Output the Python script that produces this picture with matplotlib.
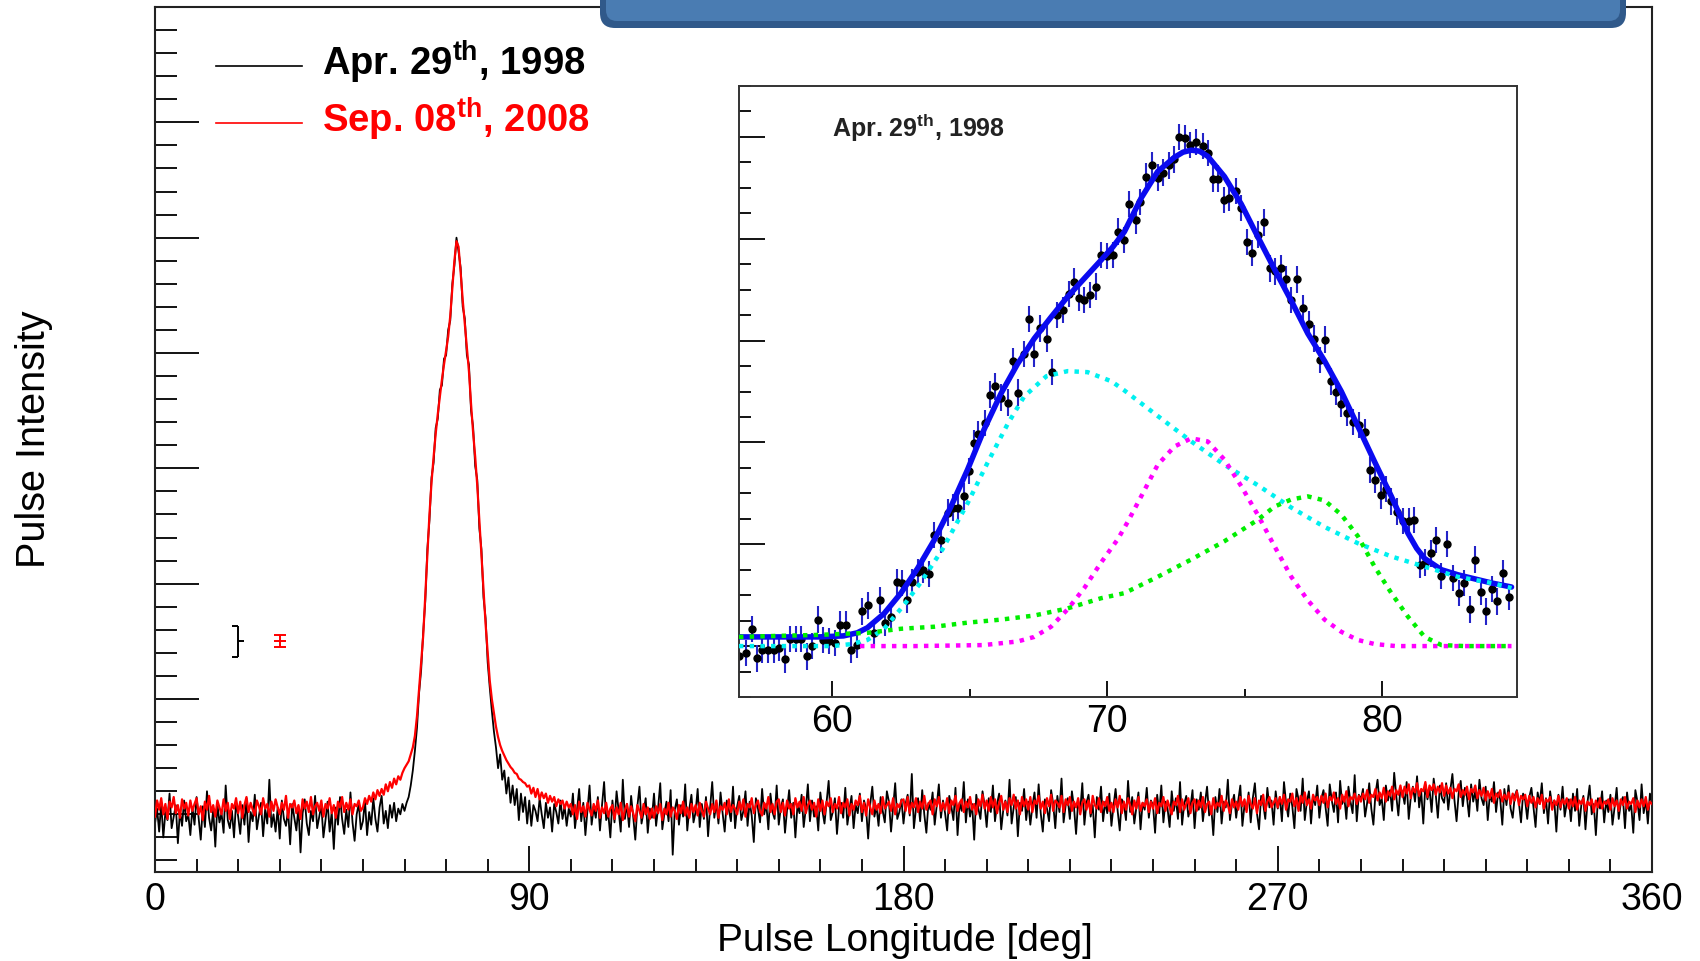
import numpy as np
import matplotlib
matplotlib.use("Agg")
import matplotlib.pyplot as plt
from matplotlib.lines import Line2D
from matplotlib.patches import FancyBboxPatch
from matplotlib.transforms import IdentityTransform
from matplotlib.ticker import MultipleLocator

plt.rcParams["font.family"] = ["Liberation Sans", "DejaVu Sans"]
plt.rcParams["mathtext.fontset"] = "custom"
plt.rcParams["mathtext.rm"] = "Liberation Sans"
plt.rcParams["mathtext.bf"] = "Liberation Sans:bold"

W, H = 1700, 961

# ---- main pulse profiles: 0.5 deg bins, intensity in hundredths ----
phase_step = 0.5
red_profile = np.array([
    -2, 12, 4, 14, 0, 9, -4, 11, 6, 15, 1, 8, -3, 13, 5, 10, -1, 12, 3, 9,
    14, 0, 7, -5, 11, 4, 16, 2, 8, -2, 12, 6, 0, 13, 3, 10, -4, 9, 5, 14,
    1, 11, -3, 8, 15, 2, 10, 4, -1, 12, 7, 0, 14, 5, 9, -2, 11, 3, 13, 6,
    0, 10, 4, 16, -3, 9, 6, 12, 1, 8, -4, 13, 5, 11, 2, 15, 0, 7, 10, 3,
    12, -2, 9, 5, 14, 1, 8, -3, 11, 6, 15, 2, 10, 4, 13, 0, 9, 7, 12, 3,
    6, 14, 9, 16, 11, 19, 13, 21, 16, 22, 17, 26, 20, 28, 23, 31, 26, 33, 30, 36,
    40, 43, 46, 52, 58, 68, 85, 108, 130, 155, 190, 225, 260, 288, 310, 330, 347, 362, 377, 390,
    402, 414, 432, 456, 480, 497, 492, 470, 446, 425, 405, 384, 356, 331, 310, 285, 255, 225, 195, 165,
    140, 116, 100, 88, 76, 67, 60, 55, 51, 47, 44, 41, 39, 36, 35, 31, 30, 28, 27, 24,
    25, 18, 23, 15, 22, 13, 19, 14, 18, 10, 16, 11, 15, 7, 13, 9, 12, 5, 11, 6,
    9, 0, 8, -4, 11, 2, 7, -2, 10, 4, -1, 9, 3, 12, -3, 6, 1, 10, -2, 5,
    8, -4, 6, 0, 10, -5, 4, 9, -2, 7, 1, -6, 8, 3, -3, 9, 0, 6, -4, 5,
    -3, 7, 1, 9, -5, 5, 0, 10, -2, 6, 3, -4, 8, 1, 11, -1, 6, -3, 9, 2,
    8, -1, 10, 3, -2, 11, 5, 0, 9, 2, 12, -3, 7, 4, 10, 0, 13, 2, 8, 5,
    0, 11, 4, 13, -2, 9, 6, 14, 1, 8, 12, 3, -1, 10, 5, 15, 2, 9, 0, 11,
    13, 2, 10, -1, 12, 5, 9, 0, 14, 6, 11, 3, 15, 1, 8, 12, 4, 10, -2, 13,
    3, 12, 0, 11, 7, 14, 2, 9, 5, 15, 1, 10, 6, 13, -1, 9, 4, 12, 8, 16,
    2, 10, -1, 13, 6, 0, 12, 4, 9, 1, 15, 5, 8, 11, 3, 14, 0, 9, 6, 12,
    13, 3, 15, 1, 10, 6, 14, 2, 11, 5, 16, 4, 9, 12, 0, 13, 7, 15, 3, 10,
    4, 14, 1, 12, 8, 16, 3, 10, 13, 2, 11, 6, 15, 4, 9, 0, 13, 7, 17, 5,
    12, 3, 15, 6, 13, 1, 10, 16, 4, 11, 2, 14, 8, 17, 5, 12, 0, 15, 7, 13,
    4, 15, 2, 12, 9, 16, 5, 11, 1, 14, 7, 17, 3, 12, 10, 6, 16, 2, 13, 8,
    15, 3, 11, 6, 14, 0, 10, 13, 4, 12, 1, 16, 8, 5, 14, 2, 11, 7, 15, 3,
    10, 2, 13, 6, 16, 1, 11, 4, 14, 8, 0, 12, 5, 15, 3, 10, 7, 13, 2, 11,
    5, 14, 1, 10, 7, 15, 3, 12, 6, 0, 11, 8, 16, 2, 13, 4, 9, 14, 1, 10,
    13, 3, 12, 6, 15, 2, 9, 11, 0, 14, 5, 10, 7, 16, 3, 12, 8, 1, 13, 6,
    11, 4, 15, 7, 13, 2, 16, 9, 5, 14, 1, 12, 8, 17, 3, 11, 15, 6, 10, 14,
    6, 15, 9, 17, 4, 13, 11, 18, 7, 14, 3, 16, 10, 19, 8, 13, 5, 17, 12, 15,
    8, 16, 10, 18, 6, 15, 12, 19, 9, 14, 5, 17, 11, 20, 7, 15, 13, 18, 9, 16,
    11, 18, 13, 21, 10, 17, 15, 22, 12, 19, 14, 23, 11, 20, 16, 24, 13, 21, 17, 25,
    15, 24, 18, 26, 14, 23, 19, 27, 16, 22, 20, 28, 15, 25, 21, 26, 17, 24, 19, 27,
    16, 25, 18, 23, 14, 22, 20, 26, 15, 21, 17, 24, 13, 22, 19, 25, 14, 21, 16, 23,
    12, 20, 14, 22, 10, 18, 15, 21, 11, 17, 13, 19, 9, 18, 12, 20, 8, 16, 13, 17,
    7, 16, 10, 15, 6, 14, 9, 17, 5, 13, 11, 15, 4, 12, 8, 16, 6, 13, 9, 14,
    5, 13, 7, 15, 4, 12, 9, 14, 3, 11, 8, 13, 2, 12, 6, 14, 5, 11, 9, 13,
    4, 14, 7, 12, 3, 13, 8, 15, 5, 11, 9, 14, 2, 12, 6, 13, 7, 15, 4, 11,
    9,
]) / 100

black_profile = np.array([
    -8, 5, -15, 10, -20, 2, -5, 18, -12, -2, 8, -25, 3, -10, 12, -6, 0, -18, 6, -9,
    15, -4, -22, 7, -11, 20, -3, -14, 4, -28, 9, -7, 1, -16, 25, -5, -12, 3, -20, 11,
    -2, -17, 8, -9, 14, -24, 2, -6, 17, -13, -1, 10, -19, 5, -8, 30, -11, 0, -15, 6,
    -21, 12, -4, -10, 4, -26, 9, -3, -14, 7, -33, 1, 13, -8, -18, 3, -6, 16, -12, -2,
    8, -20, -5, 11, -15, 2, -30, 6, -9, 15, -4, -17, 4, -11, 19, -7, -23, 0, 9, -13,
    -6, 12, -18, 2, -9, 14, -4, -15, 6, 16, -8, 3, -12, 8, -3, 10, -6, 5, 0, 9,
    3, 10, 15, 25, 38, 55, 75, 105, 125, 158, 185, 230, 255, 292, 305, 335, 343, 368, 372, 395,
    398, 420, 428, 460, 476, 500, 488, 474, 440, 430, 398, 390, 350, 336, 302, 290, 248, 230, 188, 170,
    132, 110, 90, 72, 58, 40, 52, 30, 38, 18, 32, 10, 25, 8, 22, -5, 18, 2, 15, -8,
    12, -10, 8, 3, -6, 14, 0, -12, 10, -3, 6, -15, 9, 2, -8, 12, -4, 7, -10, 5,
    -2, 18, -12, 4, 22, -6, 10, -18, 3, 25, -9, 6, -3, 15, -14, 8, 28, -5, 1, -20,
    12, -7, 20, 3, -15, 30, -4, 9, -11, 16, -2, -22, 7, 24, -8, 2, 14, -16, 5, -3,
    18, -10, 6, 27, -13, 1, 11, -6, 21, -35, 4, 13, -9, 8, -2, 26, -14, 5, 17, -7,
    2, 22, -11, 9, -4, 15, -19, 6, 28, -3, 10, -8, 19, 1, -15, 12, 4, -6, 24, -12,
    7, 16, -5, 3, 20, -10, 11, -1, -24, 14, 5, -7, 22, 0, 9, -13, 18, 2, -4, 25,
    -9, 6, 13, -16, 4, 21, -3, 10, -20, 8, 1, 17, -11, 5, 26, -6, 12, -2, 7, -14,
    19, 3, -8, 11, 29, -5, 2, 14, -17, 6, 10, -3, 23, -9, 4, 16, -12, 8, 1, 18,
    -6, 12, 5, -21, 9, 24, -2, 7, -10, 15, 3, -7, 20, 11, -15, 6, 27, -4, 2, 13,
    -8, 9, 17, -1, 35, -12, 5, 14, -6, 21, 0, -16, 10, 4, 19, -9, 8, 26, -3, 12,
    1, -14, 16, 7, -5, 23, -18, 10, 3, 28, -7, 13, -2, 9, -22, 17, 5, -4, 20, 8,
    -11, 14, 2, 25, -6, 9, 18, -13, 4, 12, -1, 30, -8, 6, 15, -19, 10, 3, 22, -5,
    11, -9, 7, 19, -3, 26, 1, -15, 13, 5, -6, 21, 9, -12, 16, 2, 31, -7, 8, 14,
    -4, 20, 6, -17, 12, 3, 27, -9, 10, 17, -2, 8, -20, 15, 4, 24, -6, 11, 1, 18,
    -10, 7, 22, 3, -14, 13, 9, -5, 29, 2, 15, -8, 6, 19, -13, 10, 4, 23, -3, 12,
    8, -16, 17, 1, 25, -7, 11, 5, -11, 20, 3, 14, -4, 28, -9, 9, 16, -2, 6, 21,
    -12, 13, 4, 19, -6, 10, 24, -1, 7, -18, 15, 2, 22, -8, 11, 6, 30, -5, 9, 17,
    -3, 12, 25, -10, 8, 4, 19, -7, 14, 27, 1, -13, 16, 9, -4, 23, 6, 12, -9, 20,
    5, 15, -6, 28, 10, -2, 18, 7, -12, 22, 13, 3, 31, -5, 11, 20, -8, 16, 8, 25,
    -3, 14, 21, 6, -10, 26, 12, 2, 19, -7, 29, 9, 15, -4, 24, 11, 1, 34, -6, 17,
    13, 22, -2, 10, 27, 5, -9, 18, 30, 8, 14, -5, 25, 12, 21, 3, 36, 16, -1, 23,
    19, 9, 28, -4, 15, 24, 11, 33, 6, 20, -8, 26, 13, 22, 2, 31, 17, -3, 25, 14,
    10, 27, 4, 21, 35, 12, -6, 18, 29, 7, 23, 15, -2, 26, 11, 20, 3, 30, 14, 8,
    24, -5, 17, 11, 28, 2, 19, 13, -9, 22, 8, 25, 5, -3, 16, 21, 10, -7, 18, 12,
    -4, 15, 23, 6, -11, 19, 9, 27, 1, 14, -8, 20, 7, 12, -15, 17, 4, 24, -2, 10,
    13, -6, 18, 3, 22, -10, 8, 16, -13, 11, 25, 0, 9, -18, 14, 5, 20, -7, 12, 2,
    17, -9, 6, 23, -4, 10, 15, -12, 19, 3, 8, -16, 21, 11, -5, 26, 1, 13, -8, 18,
    10,
]) / 100

red_phase = np.arange(len(red_profile)) * phase_step
black_phase = np.arange(len(black_profile)) * phase_step

# error bar samples drawn at left of main panel
bar_x = [20, 30]
bar_y = [1.5, 1.5]
bar_err = [0.134, 0.053]

# ---- inset: Apr. 29th 1998 points around the peak ----
inset_phase = [
    56.60, 56.85, 57.09, 57.25, 57.45, 57.66, 57.88, 58.06, 58.27, 58.46,
    58.67, 58.85, 59.07, 59.27, 59.49, 59.66, 59.88, 60.10, 60.28, 60.49,
    60.69, 60.91, 61.09, 61.30, 61.52, 61.73, 61.91, 62.13, 62.33, 62.53,
    62.71, 62.91, 63.12, 63.31, 63.52, 63.70, 63.95, 64.19, 64.37, 64.55,
    64.77, 64.98, 65.14, 65.30, 65.55, 65.74, 65.93, 66.13, 66.37, 66.55,
    66.76, 66.95, 67.16, 67.34, 67.56, 67.80, 68.00, 68.17, 68.37, 68.59,
    68.80, 68.98, 69.16, 69.38, 69.59, 69.77, 69.99, 70.19, 70.40, 70.59,
    70.78, 71.04, 71.20, 71.41, 71.61, 71.83, 72.01, 72.23, 72.44, 72.62,
    72.83, 73.02, 73.23, 73.47, 73.65, 73.83, 74.04, 74.26, 74.44, 74.68,
    74.87, 75.09, 75.27, 75.47, 75.69, 75.90, 76.08, 76.30, 76.51, 76.69,
    76.91, 77.11, 77.32, 77.51, 77.72, 77.90, 78.12, 78.30, 78.51, 78.73,
    78.93, 79.14, 79.36, 79.54, 79.75, 79.94, 80.15, 80.33, 80.55, 80.75,
    80.96, 81.15, 81.36, 81.56, 81.76, 81.97, 82.15, 82.35, 82.57, 82.78,
    82.97, 83.18, 83.39, 83.58, 83.79, 83.99, 84.19, 84.39, 84.60,
]
inset_flux = [
    -0.10, -0.07, 0.17, -0.12, -0.04, -0.04, -0.04, -0.02, -0.13, 0.07,
    0.07, 0.07, -0.10, 0.00, 0.26, 0.06, 0.05, 0.03, 0.21, 0.21,
    -0.04, 0.01, 0.34, 0.40, 0.13, 0.45, 0.23, 0.29, 0.63, 0.62,
    0.45, 0.63, 0.73, 0.75, 0.71, 1.09, 1.04, 1.31, 1.36, 1.36,
    1.47, 1.72, 1.99, 2.08, 2.19, 2.47, 2.55, 2.44, 2.39, 2.80,
    2.49, 2.87, 3.21, 2.87, 3.12, 3.02, 2.69, 3.25, 3.30, 3.46,
    3.58, 3.42, 3.40, 3.45, 3.53, 3.84, 3.83, 3.84, 4.07, 3.99,
    4.34, 4.18, 4.36, 4.61, 4.72, 4.60, 4.65, 4.72, 4.78, 5.00,
    4.99, 4.92, 4.95, 4.91, 4.84, 4.59, 4.59, 4.38, 4.40, 4.47,
    4.30, 3.97, 3.86, 4.04, 4.16, 3.71, 3.68, 3.71, 3.60, 3.40,
    3.60, 3.32, 3.16, 3.02, 2.81, 3.01, 2.60, 2.50, 2.38, 2.29,
    2.20, 2.17, 2.10, 1.73, 1.63, 1.48, 1.54, 1.42, 1.32, 1.23,
    1.23, 1.24, 0.80, 0.82, 0.91, 1.04, 0.69, 1.00, 0.67, 0.52,
    0.62, 0.36, 0.85, 0.53, 0.34, 0.56, 0.44, 0.72, 0.48,
]
inset_err = 0.13

# total fit and its three components
fit_phase = [
    56.6, 57.5, 58.5, 59.5, 60.4, 60.9, 61.27, 61.88, 62.49, 63.09,
    63.7, 64.31, 64.91, 65.52, 66.13, 66.73, 67.34, 67.95, 68.55, 69.16,
    69.77, 70.2, 70.62, 71.23, 71.83, 72.44, 72.75, 73.05, 73.35, 73.65,
    74.26, 74.87, 75.47, 76.08, 76.69, 77.29, 77.9, 78.51, 79.11, 79.72,
    80.33, 80.93, 81.25, 81.54, 82.15, 82.75, 83.36, 83.97, 84.7,
]
fit_total = [
    0.09, 0.09, 0.09, 0.09, 0.10, 0.13, 0.18, 0.32, 0.52, 0.76,
    1.04, 1.37, 1.73, 2.13, 2.48, 2.77, 3.02, 3.23, 3.43, 3.61,
    3.79, 3.92, 4.07, 4.40, 4.66, 4.80, 4.85, 4.87, 4.86, 4.81,
    4.61, 4.34, 4.02, 3.70, 3.39, 3.07, 2.80, 2.50, 2.16, 1.81,
    1.47, 1.11, 0.96, 0.86, 0.75, 0.70, 0.66, 0.62, 0.58,
]

cyan_phase = [
    56.6, 58.0, 59.2, 60.0, 60.7, 61.27, 61.88, 62.59, 63.2, 64.0,
    64.91, 65.64, 66.37, 66.97, 67.78, 68.55, 69.28, 70.15, 70.62, 71.83,
    73.05, 74.26, 75.47, 76.69, 77.9, 79.11, 80.33, 81.54, 82.75, 83.97, 84.7,
]
cyan_comp = [
    0.0, 0.0, 0.0, 0.0, 0.02, 0.06, 0.17, 0.40, 0.62, 0.95,
    1.40, 1.80, 2.18, 2.45, 2.65, 2.70, 2.69, 2.60, 2.51, 2.26,
    2.01, 1.78, 1.58, 1.36, 1.17, 1.01, 0.88, 0.78, 0.68, 0.62, 0.57,
]

magenta_phase = [
    61.0, 63.0, 65.5, 66.73, 67.34, 67.95, 68.55, 69.16, 69.77, 70.38,
    70.74, 71.23, 71.83, 72.44, 73.05, 73.65, 74.26, 74.87, 75.47, 76.08,
    76.69, 77.29, 77.9, 78.51, 79.11, 79.72, 80.5, 82.5, 84.7,
]
magenta_comp = [
    0.0, 0.0, 0.01, 0.045, 0.09, 0.19, 0.36, 0.57, 0.82, 1.05,
    1.22, 1.47, 1.78, 1.96, 2.04, 2.01, 1.83, 1.57, 1.29, 0.98,
    0.68, 0.45, 0.26, 0.14, 0.06, 0.02, 0.0, 0.0, 0.0,
]

green_phase = [
    56.6, 58.0, 59.5, 61.27, 62.49, 63.7, 64.91, 66.13, 67.34, 68.55,
    69.77, 70.62, 71.83, 73.05, 74.26, 75.47, 76.08, 76.69, 77.29, 77.9,
    78.51, 79.11, 79.72, 80.33, 80.93, 81.54, 82.15, 83.0, 84.7,
]
green_comp = [
    0.09, 0.10, 0.11, 0.13, 0.17, 0.19, 0.23, 0.26, 0.30, 0.37,
    0.47, 0.52, 0.68, 0.85, 1.03, 1.24, 1.37, 1.44, 1.47, 1.43,
    1.29, 1.08, 0.78, 0.52, 0.29, 0.09, 0.01, 0.0, 0.0,
]


def fx(px):
    return px / W


def fy(py):
    return 1 - py / H


fig = plt.figure(figsize=(W / 100, H / 100), dpi=100)

# ---------------- main panel ----------------
ax = fig.add_axes([fx(155), fy(872), fx(1652) - fx(155), fy(7) - fy(872)])
ax.plot(black_phase, black_profile, color="black", lw=1.3, zorder=2)
ax.plot(red_phase, red_profile, color="red", lw=1.6, zorder=3)

# black bar drawn as "]" (caps to the left, tick to the right)
ax.errorbar(bar_x[0], bar_y[0], yerr=bar_err[0], fmt="none", ecolor="black", elinewidth=1.4)
ax.plot([bar_x[0], bar_x[0]], [bar_y[0] - bar_err[0], bar_y[0] + bar_err[0]], ls="none",
        marker=0, ms=4, mew=1.4, color="black")
ax.plot(bar_x[0], bar_y[0], ls="none", marker=1, ms=4, mew=1.4, color="black")
ax.errorbar(bar_x[1], bar_y[1], yerr=bar_err[1], fmt="_", color="red", ms=8, mew=1.4,
            elinewidth=1.4, capsize=4, capthick=1.4)

ax.set_xlim(0, 360)
ax.set_ylim(-0.5, 7.0)
ax.xaxis.set_major_locator(MultipleLocator(90))
ax.xaxis.set_minor_locator(MultipleLocator(10))
ax.yaxis.set_major_locator(MultipleLocator(1))
ax.yaxis.set_minor_locator(MultipleLocator(0.2))
ax.tick_params(axis="x", which="major", direction="in", length=18.7, width=1.3,
               labelsize=27, pad=7, top=False)
ax.tick_params(axis="x", which="minor", direction="in", length=9.4, width=1.3, top=False)
ax.tick_params(axis="y", which="major", direction="in", length=31.7, width=1.3,
               labelleft=False, right=False)
ax.tick_params(axis="y", which="minor", direction="in", length=15.8, width=1.3, right=False)
for sp in ax.spines.values():
    sp.set_linewidth(1.5)
    sp.set_color("#222222")

fig.text(fx(905), fy(951), "Pulse Longitude [deg]", fontsize=28, ha="center", va="baseline")
fig.text(fx(34), fy(439), "Pulse Intensity", fontsize=28.5, rotation=90, ha="center", va="center")

# legend
fig.add_artist(Line2D([fx(216), fx(302)], [fy(66), fy(66)], color="black", lw=1.2))
fig.add_artist(Line2D([fx(216), fx(302)], [fy(123), fy(123)], color="red", lw=1.2))
fig.text(fx(322), fy(76), r"Apr. 29$^{\mathbf{th}}$, 1998", fontsize=27.5, fontweight="bold",
         color="black", va="baseline")
fig.text(fx(322), fy(133), r"Sep. 08$^{\mathbf{th}}$, 2008", fontsize=27.5, fontweight="bold",
         color="red", va="baseline")

# ---------------- inset ----------------
axi = fig.add_axes([fx(739), fy(697), fx(1517) - fx(739), fy(86) - fy(697)])
axi.errorbar(inset_phase, inset_flux, yerr=inset_err, fmt="o", color="black", ms=5,
             ecolor="#2424c8", elinewidth=1.5, capsize=0, zorder=2)
axi.plot(fit_phase, fit_total, color="#0a0af0", lw=4.0, zorder=3, solid_capstyle="round")
dots = (0, (1, 1.4))
axi.plot(cyan_phase, cyan_comp, color="#00f0f0", lw=3.2, ls=dots, zorder=4)
axi.plot(magenta_phase, magenta_comp, color="#ff00ff", lw=3.2, ls=dots, zorder=4)
axi.plot(green_phase, green_comp, color="#00ee00", lw=3.2, ls=dots, zorder=5)

axi.set_xlim(56.6, 84.9)
axi.set_ylim(-0.5, 5.5)
axi.xaxis.set_major_locator(MultipleLocator(10))
axi.xaxis.set_minor_locator(MultipleLocator(5))
axi.yaxis.set_major_locator(MultipleLocator(1))
axi.yaxis.set_minor_locator(MultipleLocator(0.25))
axi.tick_params(axis="x", which="major", direction="in", length=11.5, width=1.3,
                labelsize=27, pad=5, top=False)
axi.tick_params(axis="x", which="minor", direction="in", length=5.8, width=1.3, top=False)
axi.tick_params(axis="y", which="major", direction="in", length=19, width=1.3,
                labelleft=False, right=False)
axi.tick_params(axis="y", which="minor", direction="in", length=8.4, width=1.3, right=False)
for sp in axi.spines.values():
    sp.set_linewidth(1.4)
    sp.set_color("#333333")

fig.text(fx(832), fy(137), r"Apr. 29$^{\mathbf{th}}$, 1998", fontsize=18, fontweight="bold",
         color="#222222", va="baseline")

# ---------------- slide header box (cut off at top) ----------------
outer = FancyBboxPatch((600, H - 28), 1026, 60, boxstyle="round,pad=0,rounding_size=15",
                       transform=IdentityTransform(), facecolor="#30598a", edgecolor="none")
inner = FancyBboxPatch((606, H - 21), 1014, 60, boxstyle="round,pad=0,rounding_size=11",
                       transform=IdentityTransform(), facecolor="#4a7cb2", edgecolor="none")
fig.add_artist(outer)
fig.add_artist(inner)

fig.savefig("out.png", dpi=100)
